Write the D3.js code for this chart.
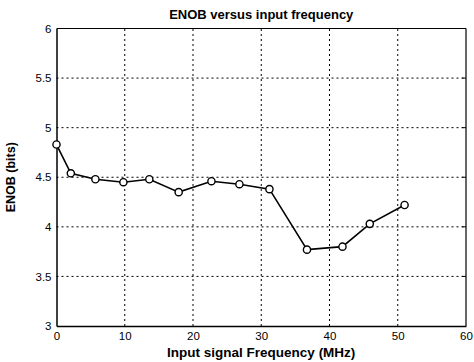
<!DOCTYPE html>
<html>
<head>
<meta charset="utf-8">
<script src="https://cdn.jsdelivr.net/npm/d3@7"></script>
<style>
  body { margin: 0; background: #fff; }
  svg { display: block; font-family: "Liberation Sans", Arial, sans-serif; }
</style>
</head>
<body>
<div id="chart"></div>
<script>
// data
var freq = [0, 2.1, 5.7, 9.8, 13.6, 17.9, 22.7, 26.8, 31.2, 36.7, 41.9, 45.9, 51.0];
var enob = [4.83, 4.54, 4.48, 4.45, 4.48, 4.35, 4.46, 4.43, 4.38, 3.77, 3.80, 4.03, 4.22];
var xTicks = [0, 10, 20, 30, 40, 50, 60];
var yTicks = [3, 3.5, 4, 4.5, 5, 5.5, 6];

var width = 474;
var height = 362;
var margin = ({top: 28.5, right: 8, bottom: 36, left: 56.5});

var svg = d3.select('#chart')
  .append('svg')
    .attr('width', width)
    .attr('height', height);

var x = d3.scaleLinear()
  .domain([0, 60])
  .range([margin.left, width - margin.right]);

var y = d3.scaleLinear()
  .domain([3, 6])
  .range([height - margin.bottom, margin.top]);

// dotted grid
svg.append('g')
  .selectAll('line')
  .data(xTicks.slice(1, -1))
  .join('line')
    .attr('x1', d => x(d)).attr('x2', d => x(d))
    .attr('y1', y(3)).attr('y2', y(6))
    .attr('stroke', '#000')
    .attr('stroke-width', 1)
    .attr('stroke-dasharray', '2,3');

svg.append('g')
  .selectAll('line')
  .data(yTicks.slice(1, -1))
  .join('line')
    .attr('x1', x(0)).attr('x2', x(60))
    .attr('y1', d => y(d)).attr('y2', d => y(d))
    .attr('stroke', '#000')
    .attr('stroke-width', 1)
    .attr('stroke-dasharray', '2,3');

// axes
var xAxis = svg.append('g')
  .attr('transform', `translate(0, ${y(3)})`)
  .call(d3.axisBottom(x).tickValues(xTicks).tickSize(0).tickPadding(6).tickFormat(d3.format('d')));

var yAxis = svg.append('g')
  .attr('transform', `translate(${x(0)}, 0)`)
  .call(d3.axisLeft(y).tickValues(yTicks).tickSize(0).tickPadding(5).tickFormat(d => String(d)));

[xAxis, yAxis].forEach(function(a) {
  a.select('.domain').attr('stroke', '#000').attr('stroke-width', 1.5);
  a.selectAll('text').attr('font-size', '11.5px').attr('fill', '#000')
    .attr('font-family', '"Liberation Sans", Arial, sans-serif');
});

// top and right frame
svg.append('line')
  .attr('x1', x(0)).attr('x2', x(60)).attr('y1', y(6)).attr('y2', y(6))
  .attr('stroke', '#000').attr('stroke-width', 1.2);
svg.append('line')
  .attr('x1', x(60)).attr('x2', x(60)).attr('y1', y(6)).attr('y2', y(3))
  .attr('stroke', '#000').attr('stroke-width', 1.2);

// short ticks on the right edge like the original
svg.append('g')
  .selectAll('line')
  .data(yTicks.slice(1, -1))
  .join('line')
    .attr('x1', x(60) - 4).attr('x2', x(60))
    .attr('y1', d => y(d)).attr('y2', d => y(d))
    .attr('stroke', '#000');

// series line + markers
var pts = freq.map((f, i) => [f, enob[i]]);

svg.append('path')
  .datum(pts)
  .attr('fill', 'none')
  .attr('stroke', '#000')
  .attr('stroke-width', 1.6)
  .attr('d', d3.line().x(d => x(d[0])).y(d => y(d[1])));

svg.append('g')
  .selectAll('circle')
  .data(pts)
  .join('circle')
    .attr('cx', d => x(d[0]))
    .attr('cy', d => y(d[1]))
    .attr('r', 3.6)
    .attr('fill', '#fff')
    .attr('stroke', '#000')
    .attr('stroke-width', 1.4);

// labels
svg.append('text')
  .attr('x', (x(0) + x(60)) / 2)
  .attr('y', 19)
  .attr('text-anchor', 'middle')
  .attr('font-size', '13px')
  .attr('font-weight', 'bold')
  .text('ENOB versus input frequency');

svg.append('text')
  .attr('x', (x(0) + x(60)) / 2)
  .attr('y', 357)
  .attr('text-anchor', 'middle')
  .attr('font-size', '13.5px')
  .attr('font-weight', 'bold')
  .text('Input signal Frequency (MHz)');

svg.append('text')
  .attr('transform', `translate(15, ${(y(3) + y(6)) / 2}) rotate(-90)`)
  .attr('text-anchor', 'middle')
  .attr('font-size', '12.5px')
  .attr('font-weight', 'bold')
  .text('ENOB (bits)');
</script>
</body>
</html>
